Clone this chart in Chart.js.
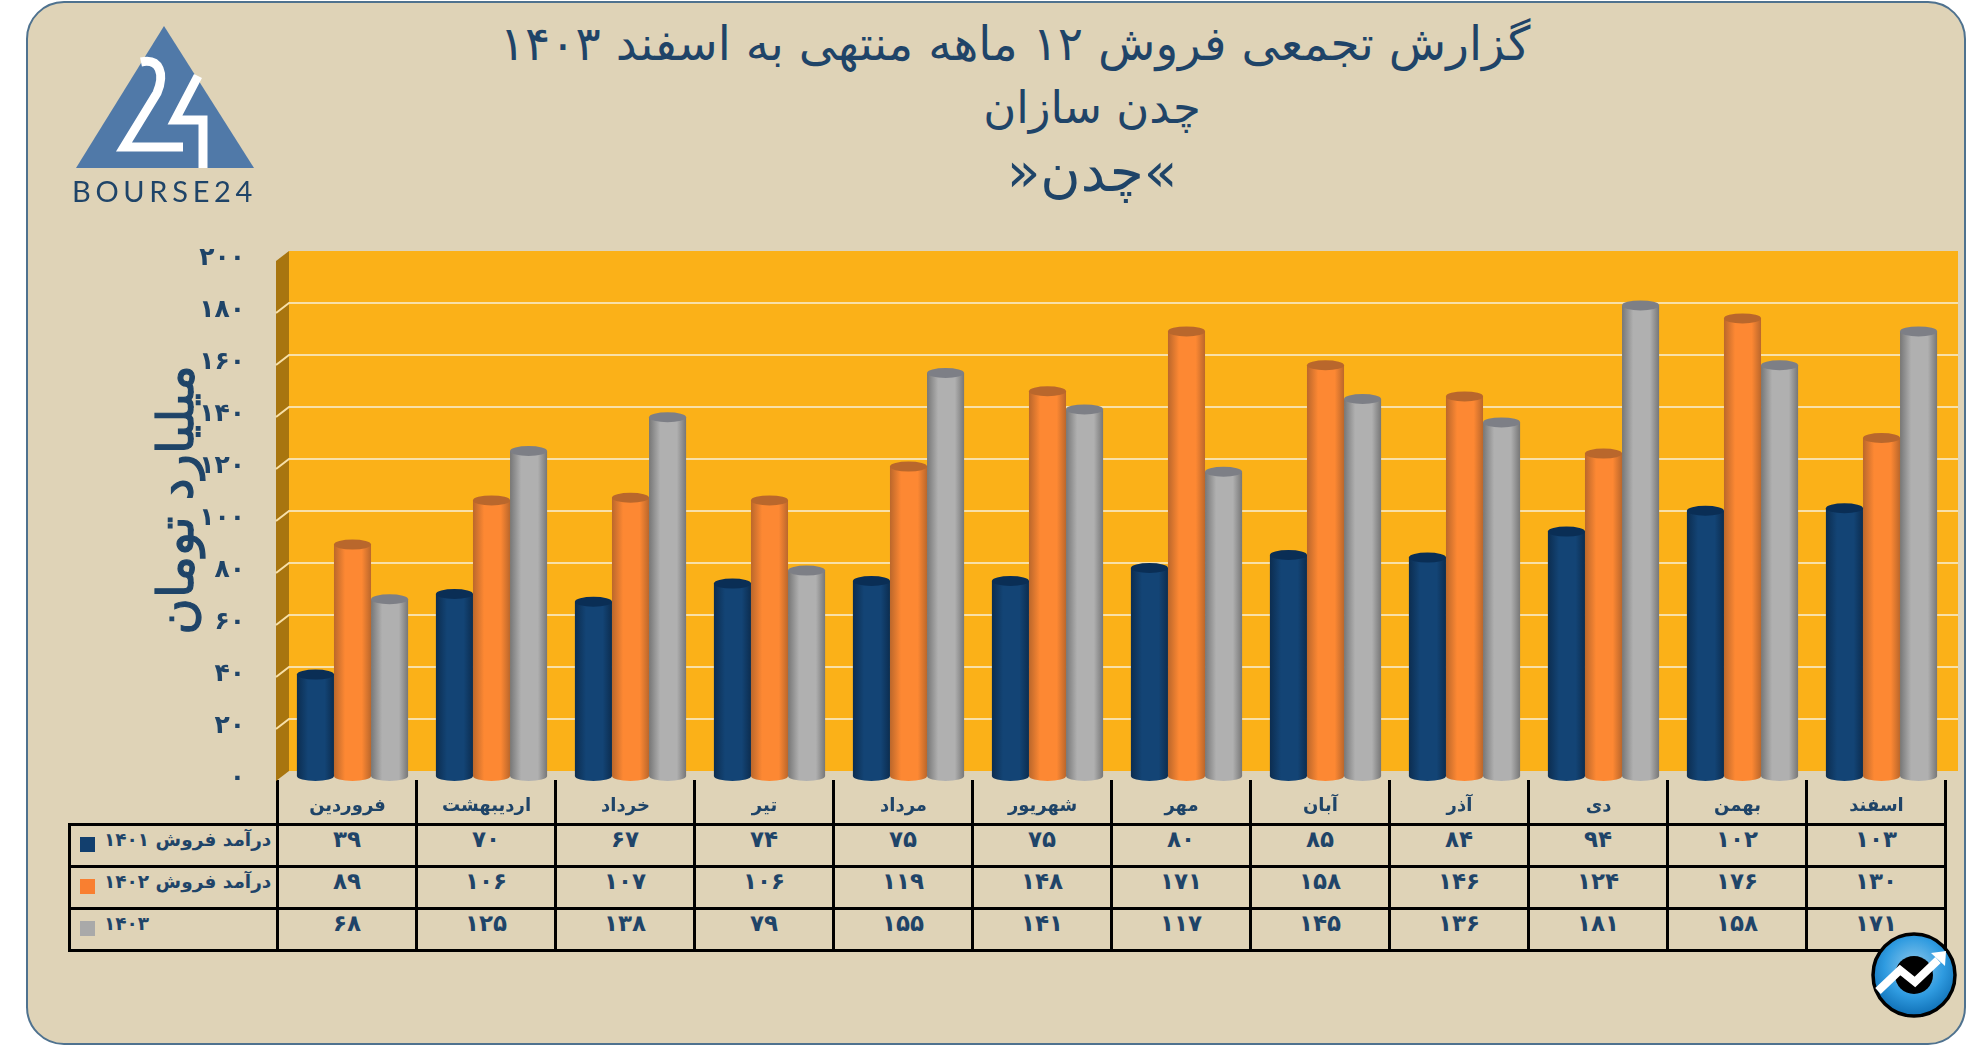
<!DOCTYPE html>
<html lang="fa">
<head>
<meta charset="utf-8">
<title>چدن</title>
<script src="https://cdn.jsdelivr.net/npm/chart.js@4"></script>
<style>
    html, body { margin: 0; padding: 0; background: #fff; }
    #page { position: relative; width: 1986px; height: 1047px; overflow: hidden; font-family: "DejaVu Sans", sans-serif; color: #1f4468; }
    #card { position: absolute; left: 26px; top: 1px; width: 1940px; height: 1044px; box-sizing: border-box; background: #dfd3b7; border: 2px solid #4f728f; border-radius: 38px; }
    #titles div { position: absolute; white-space: nowrap; text-align: center; direction: rtl; width: 1200px; }
    #chartCanvas { position: absolute; left: 0; top: 0; }
    #yTitle { position: absolute; left: 176px; top: 500px; transform: translate(-50%, -50%) rotate(-90deg); font-size: 50px; -webkit-text-stroke: 1.2px #1f4468; color: #1f4468; white-space: nowrap; direction: rtl; }
    #dataTable { position: absolute; left: 68px; top: 780px; border-collapse: collapse; table-layout: fixed; width: 1876px; }
    #dataTable td { border: 3px solid #000; padding: 0; text-align: center; vertical-align: top; font-size: 23px; font-weight: bold; height: 39px; line-height: 27px; direction: rtl; }
    #dataTable tr.head td { border-top: none; height: 43px; }
    #dataTable tr.head td.blank { border: none; border-bottom: 3px solid #000; border-right: 3px solid #000; }
    #dataTable td.name { text-align: left; font-size: 18.5px; white-space: nowrap; padding-left: 9px; direction: ltr; }
    #dataTable td.name i { display: inline-block; width: 15px; height: 15px; margin-right: 9px; vertical-align: -6px; }
    #dataTable td.name span { direction: rtl; unicode-bidi: embed; }
    svg { position: absolute; left: 0; top: 0; }
</style>
</head>
<body>
<div id="page">
    <div id="card"></div>
    <div id="titles"></div>
    <table id="dataTable"></table>
    <canvas id="chartCanvas" width="1986" height="1047"></canvas>
    <div id="yTitle">میلیارد تومان</div>
    <svg width="1986" height="1047">
        <!-- logo -->
        <polygon points="164,26 254,168 76,168" fill="#5079a8"/>
        <path d="M141,62 C160,58 165,74 157,93 L124,147 L183,147" fill="none" stroke="#fff" stroke-width="9"/>
        <path d="M198,76 L175,120 L203,120 L203,168" fill="none" stroke="#fff" stroke-width="9"/>
        <text x="72" y="202" font-family="Lato, sans-serif" font-size="29" letter-spacing="3.6" fill="#1f4468" textLength="184">BOURSE24</text>
        <!-- badge -->
        <defs>
            <radialGradient id="badge" cx="50%" cy="40%" r="60%">
                <stop offset="0" stop-color="#8fc9ec"/>
                <stop offset="0.6" stop-color="#2f9be0"/>
                <stop offset="1" stop-color="#0f6fb5"/>
            </radialGradient>
        </defs>
        <circle cx="1914" cy="975" r="41" fill="url(#badge)" stroke="#000" stroke-width="3.5"/>
        <circle cx="1914" cy="975" r="19" fill="#000"/>
        <path d="M1878,991 L1900,970 L1915,982 L1938,960" fill="none" stroke="#fff" stroke-width="8"/>
        <polygon points="1931,953 1946,951 1945,966" fill="#fff"/>
    </svg>
</div>
<script>
// chart values
const months = ['فروردین', 'اردیبهشت', 'خرداد', 'تیر', 'مرداد', 'شهریور', 'مهر', 'آبان', 'آذر', 'دی', 'بهمن', 'اسفند'];
const sales1401 = [39, 70, 67, 74, 75, 75, 80, 85, 84, 94, 102, 103];
const sales1402 = [89, 106, 107, 106, 119, 148, 171, 158, 146, 124, 176, 130];
const sales1403 = [68, 125, 138, 79, 155, 141, 117, 145, 136, 181, 158, 171];
const seriesNames = ['درآمد فروش ۱۴۰۱', 'درآمد فروش ۱۴۰۲', '۱۴۰۳'];
const titleLines = ['گزارش تجمعی فروش ۱۲ ماهه منتهی به اسفند ۱۴۰۳', 'چدن سازان', '»چدن«'];

const ink = '#1f4468';
const seriesColors = ['#123f6e', '#f97f30', '#a9a9a9'];
// edge colour, middle colour, cap colour of each cylinder
const cylinderColors = [
    ['#0c2d50', '#134475', '#0a2e55'],
    ['#bb672b', '#fd8833', '#b9672c'],
    ['#777777', '#b0b0b0', '#7d7f86']
];

function toFa(n) {
    return String(n).replace(/\d/g, d => '۰۱۲۳۴۵۶۷۸۹'[d]);
}

// titles: left, top, font size
const titleStyles = [[415, 18, 47], [492, 82, 45], [492, 146, 55]];
document.getElementById('titles').innerHTML = titleLines.map((t, i) =>
    '<div style="left:' + titleStyles[i][0] + 'px;top:' + titleStyles[i][1] + 'px;font-size:' + titleStyles[i][2] + 'px;line-height:52px">' + t + '</div>').join('');

// table under the chart
let html = '<colgroup><col style="width:208px">' + months.map(() => '<col style="width:139px">').join('') + '</colgroup>';
html += '<tr class="head"><td class="blank"></td>' + months.map(() => '<td></td>').join('') + '</tr>';
[sales1401, sales1402, sales1403].forEach((values, i) => {
    html += '<tr><td class="name"><i style="background:' + seriesColors[i] + '"></i><span>' + seriesNames[i] + '</span></td>';
    html += values.map(v => '<td>' + toFa(v) + '</td>').join('') + '</tr>';
});
document.getElementById('dataTable').innerHTML = html;

// back wall, side wall and gridlines, set back 5px behind the bars
const wallPlugin = {
    id: 'wall',
    beforeDatasetsDraw(chart) {
        const c = chart.ctx, y = chart.scales.y, a = chart.chartArea;
        const back = a.left + 6, side = a.left - 7, right = a.right + 7;
        const top = y.getPixelForValue(200) - 5, bottom = y.getPixelForValue(0) - 5;
        c.save();
        c.fillStyle = '#fbb118';
        c.fillRect(back, top, right - back, bottom - top);
        c.fillStyle = '#a8750f';
        c.beginPath();
        c.moveTo(side, top + 10);
        c.lineTo(back, top);
        c.lineTo(back, bottom);
        c.lineTo(side, bottom + 10);
        c.closePath();
        c.fill();
        c.strokeStyle = '#f8e0a8';
        c.lineWidth = 2;
        y.ticks.forEach(t => {
            if (t.value === 0 || t.value === 200) return;
            const py = y.getPixelForValue(t.value) - 5;
            c.beginPath();
            c.moveTo(side, py + 10);
            c.lineTo(back, py);
            c.lineTo(right, py);
            c.stroke();
        });
        c.restore();
    }
};

// turns the flat bars into cylinders
const cylinderPlugin = {
    id: 'cylinder',
    beforeDatasetDraw(chart, args) {
        const c = chart.ctx, colors = cylinderColors[args.index];
        args.meta.data.forEach(bar => {
            const w = bar.width;
            const g = c.createLinearGradient(bar.x - w / 2, 0, bar.x + w / 2, 0);
            g.addColorStop(0, colors[0]);
            g.addColorStop(0.3, colors[1]);
            g.addColorStop(0.75, colors[1]);
            g.addColorStop(1, colors[0]);
            bar.options = Object.assign({}, bar.options, { backgroundColor: g });
            c.fillStyle = g;
            c.beginPath();
            c.ellipse(bar.x, bar.base, w / 2, 5, 0, 0, Math.PI * 2);
            c.fill();
        });
    },
    afterDatasetDraw(chart, args) {
        const c = chart.ctx, colors = cylinderColors[args.index];
        args.meta.data.forEach(bar => {
            c.fillStyle = colors[2];
            c.beginPath();
            c.ellipse(bar.x, bar.y, bar.width / 2, 5, 0, 0, Math.PI * 2);
            c.fill();
        });
    }
};

new Chart(document.getElementById('chartCanvas'), {
    type: 'bar',
    data: {
        labels: months,
        datasets: [
            { label: seriesNames[0], data: sales1401, backgroundColor: seriesColors[0] },
            { label: seriesNames[1], data: sales1402, backgroundColor: seriesColors[1] },
            { label: seriesNames[2], data: sales1403, backgroundColor: seriesColors[2] }
        ]
    },
    options: {
        responsive: false,
        animation: false,
        devicePixelRatio: 1,
        layout: { padding: { left: 0, top: 256, right: 35, bottom: 0 } },
        datasets: { bar: { categoryPercentage: 0.8, barPercentage: 1 } },
        plugins: { legend: { display: false }, tooltip: { enabled: false } },
        scales: {
            x: {
                grid: { display: false },
                border: { display: false },
                afterFit(scale) { scale.height = 271; },
                ticks: {
                    color: ink,
                    padding: 12,
                    labelOffset: -5,
                    maxRotation: 0,
                    autoSkip: false,
                    font: { family: '"DejaVu Sans"', size: 18, weight: 'bold' }
                }
            },
            y: {
                min: 0,
                max: 200,
                grid: { display: false },
                border: { display: false },
                afterFit(scale) { scale.width = 283; },
                ticks: {
                    stepSize: 20,
                    color: ink,
                    padding: 30,
                    labelOffset: 2,
                    callback: v => toFa(v),
                    font: { family: '"DejaVu Sans"', size: 25, weight: 'bold' }
                }
            }
        }
    },
    plugins: [wallPlugin, cylinderPlugin]
});
</script>
</body>
</html>
